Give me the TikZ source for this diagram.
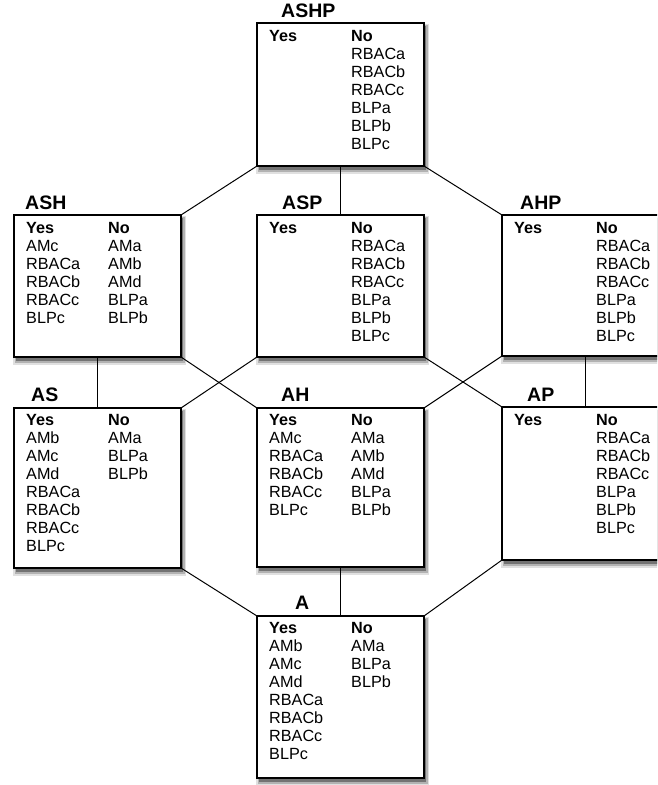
\documentclass[tikz,border=0pt]{standalone}
\usepackage{fontspec}
\setmainfont{Liberation Sans}
\tikzset{
  bx/.style={draw=black, line width=1.4pt, fill=white, inner sep=0pt, outer sep=0pt},
  shdA/.style={fill=black!12},
  shdB/.style={fill=black!30},
  shdC/.style={fill=black!55},
  txt/.style={anchor=base west, inner sep=0pt, font=\fontsize{16.2}{18}\selectfont},
  ttl/.style={anchor=base west, inner sep=0pt, font=\fontsize{19.5}{22}\selectfont\bfseries},
  conn/.style={draw=black, line width=1pt}
}
\newcommand\bxnode[5]{%
  \fill[shdA] ({#2-1},{#3+1}) rectangle ({#4+5},{#5+8});
  \fill[shdB] ({#2+1},{#3+2}) rectangle ({#4+4},{#5+6});
  \fill[shdC] ({#2+2},{#3+3}) rectangle ({#4+2},{#5+4});
  \path node[bx, minimum width={#4-#2}, minimum height={#5-#3}] (#1) at ({(#2+#4)/2},{(#3+#5)/2}) {};}
\newcommand\colm[4]{\foreach \t [count=\i] in {#4}{\node[txt] (#1-\i) at ({#2},{#3+(\i-1)*18.1}) {\t};}}
\begin{document}
\begin{tikzpicture}[x=1pt,y=-1pt]
\clip (0,0) rectangle (657,785);
\fill[white] (0,0) rectangle (657,785);
% coordinates for box corners (used for connectors)
\coordinate (ASHPbl) at (257,166); \coordinate (ASHPbr) at (424,166); \coordinate (ASHPb) at (340.5,166);
\coordinate (ASHtr) at (181,215); \coordinate (ASPt) at (340.5,215); \coordinate (AHPtl) at (502,215);
\coordinate (ASHb) at (97.5,357); \coordinate (ASHbr) at (181,357);
\coordinate (ASPbl) at (257,357); \coordinate (ASPbr) at (424,357);
\coordinate (AHPbl) at (502,356); \coordinate (AHPb) at (585.5,356);
\coordinate (ASt) at (97.5,408); \coordinate (AStr) at (181,408);
\coordinate (AHtl) at (257,408); \coordinate (AHtr) at (424,408);
\coordinate (APtl) at (502,407); \coordinate (APt) at (585.5,407);
\coordinate (ASbr) at (181,568); \coordinate (AHb) at (340.5,567); \coordinate (APbl) at (502,560);
\coordinate (Atl) at (257,616); \coordinate (At) at (340.5,616); \coordinate (Atr) at (424,616);
% boxes (with soft shadows)
\bxnode{ASHP}{257}{23}{424}{166}
\bxnode{ASH}{14}{215}{181}{357}
\bxnode{ASP}{257}{215}{424}{357}
\bxnode{AHP}{502}{215}{669}{356}
\bxnode{AS}{14}{408}{181}{568}
\bxnode{AH}{257}{408}{424}{567}
\bxnode{AP}{502}{407}{669}{560}
\bxnode{A}{257}{616}{424}{778}
% connectors
\draw[conn] (ASHPbl) -- (ASHtr);
\draw[conn] (ASHPb) -- (ASPt);
\draw[conn] (ASHPbr) -- (AHPtl);
\draw[conn] (ASHb) -- (ASt);
\draw[conn] (ASHbr) -- (AHtl);
\draw[conn] (ASPbl) -- (AStr);
\draw[conn] (ASPbr) -- (APtl);
\draw[conn] (AHPbl) -- (AHtr);
\draw[conn] (AHPb) -- (APt);
\draw[conn] (ASbr) -- (Atl);
\draw[conn] (AHb) -- (At);
\draw[conn] (APbl) -- (Atr);
% titles
\node[ttl] (tASHP) at (281,17) {ASHP};
\node[ttl] (tASH) at (25,209) {ASH};
\node[ttl] (tASP) at (282,209) {ASP};
\node[ttl] (tAHP) at (520,209) {AHP};
\node[ttl] (tAS) at (31,401) {AS};
\node[ttl] (tAH) at (281,401) {AH};
\node[ttl] (tAP) at (527,401) {AP};
\node[ttl] (tA) at (295,609) {A};
% contents
\colm{ASHPy}{269}{41}{\textbf{Yes}}
\colm{ASHPn}{351}{41}{\textbf{No},RBACa,RBACb,RBACc,BLPa,BLPb,BLPc}
\colm{ASHy}{26}{233}{\textbf{Yes},AMc,RBACa,RBACb,RBACc,BLPc}
\colm{ASHn}{108}{233}{\textbf{No},AMa,AMb,AMd,BLPa,BLPb}
\colm{ASPy}{269}{233}{\textbf{Yes}}
\colm{ASPn}{351}{233}{\textbf{No},RBACa,RBACb,RBACc,BLPa,BLPb,BLPc}
\colm{AHPy}{514}{233}{\textbf{Yes}}
\colm{AHPn}{596}{233}{\textbf{No},RBACa,RBACb,RBACc,BLPa,BLPb,BLPc}
\colm{ASy}{26}{425}{\textbf{Yes},AMb,AMc,AMd,RBACa,RBACb,RBACc,BLPc}
\colm{ASn}{108}{425}{\textbf{No},AMa,BLPa,BLPb}
\colm{AHy}{269}{425}{\textbf{Yes},AMc,RBACa,RBACb,RBACc,BLPc}
\colm{AHn}{351}{425}{\textbf{No},AMa,AMb,AMd,BLPa,BLPb}
\colm{APy}{514}{425}{\textbf{Yes}}
\colm{APn}{596}{425}{\textbf{No},RBACa,RBACb,RBACc,BLPa,BLPb,BLPc}
\colm{Ay}{269}{633}{\textbf{Yes},AMb,AMc,AMd,RBACa,RBACb,RBACc,BLPc}
\colm{An}{351}{633}{\textbf{No},AMa,BLPa,BLPb}
\end{tikzpicture}
\end{document}
